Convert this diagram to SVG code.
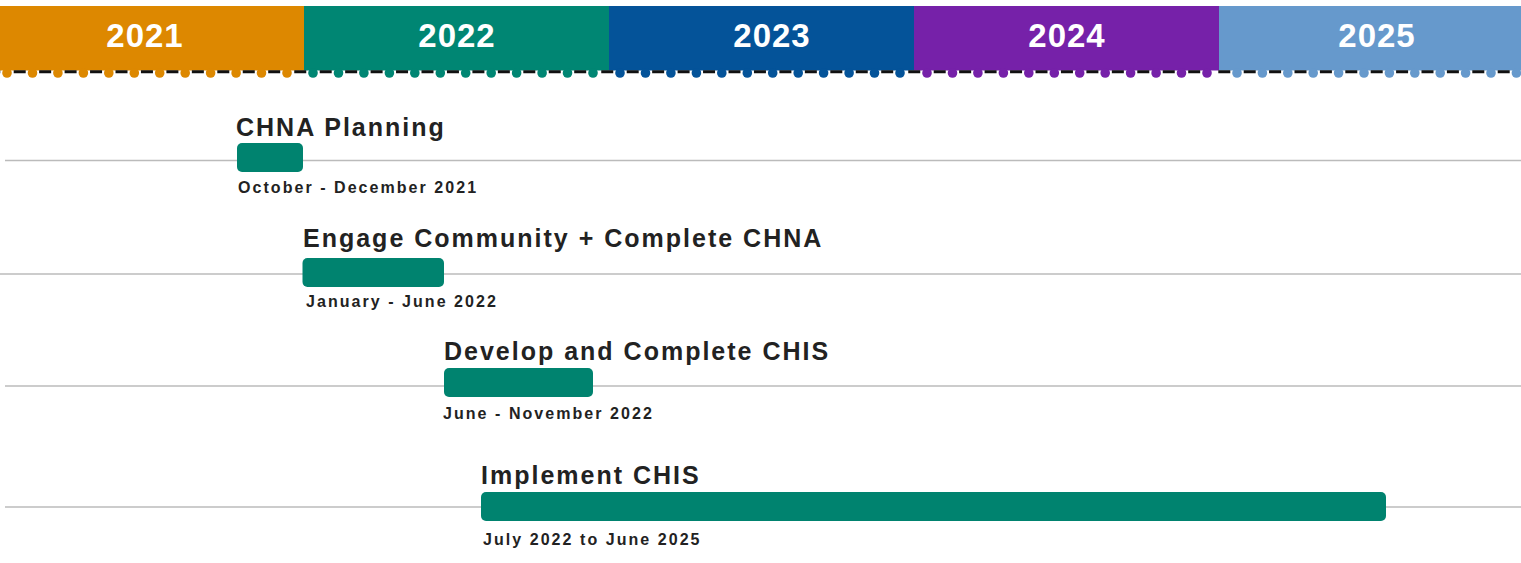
<svg xmlns="http://www.w3.org/2000/svg" width="1521" height="563" viewBox="0 0 1521 563">
<style>
.yr{font-family:"Liberation Sans",Arial,sans-serif;font-weight:bold;font-size:33px;fill:#ffffff;text-anchor:middle;letter-spacing:1px}
.title{font-family:"Liberation Sans",Arial,sans-serif;font-weight:bold;font-size:25px;fill:#222222;letter-spacing:2px}
.sub{font-family:"Liberation Sans",Arial,sans-serif;font-weight:bold;font-size:16px;fill:#222222;letter-spacing:2.05px}
.track{stroke:#bbbbbb;stroke-width:1.5;fill:none}
.bar{fill:#00836f}
.dash{stroke:#111111;stroke-width:3;stroke-dasharray:0 6.7 12 6.75}
.c21{fill:#dd8800}.c22{fill:#008673}.c23{fill:#045399}.c24{fill:#7621a9}.c25{fill:#6699cc}
</style>
<defs>
<circle id="d" r="4.8" cx="0" cy="73"/>
</defs>
<rect width="1521" height="563" fill="#ffffff"/>
<g id="header">
<rect class="c21" x="0" y="6" width="304" height="64.5"/>
<rect class="c22" x="304" y="6" width="305" height="64.5"/>
<rect class="c23" x="609" y="6" width="305" height="64.5"/>
<rect class="c24" x="914" y="6" width="305" height="64.5"/>
<rect class="c25" x="1219" y="6" width="302" height="64.5"/>
<line class="dash" x1="-18.45" y1="71.8" x2="287" y2="71.8"/>
<line class="dash" x1="287.55" y1="71.8" x2="593" y2="71.8"/>
<line class="dash" x1="594.55" y1="71.8" x2="900" y2="71.8"/>
<line class="dash" x1="901.55" y1="71.8" x2="1207" y2="71.8"/>
<line class="dash" x1="1211.6" y1="71.8" x2="1545" y2="71.8" style="stroke-dasharray:0 6.7 12 6.7"/>
<text class="yr" x="145" y="47">2021</text>
<text class="yr" x="457" y="47">2022</text>
<text class="yr" x="772" y="47">2023</text>
<text class="yr" x="1067" y="47">2024</text>
<text class="yr" x="1377" y="47">2025</text>
<g class="c21">
<use href="#d" x="7"/><use href="#d" x="32.5"/><use href="#d" x="57.9"/><use href="#d" x="83.4"/><use href="#d" x="108.8"/><use href="#d" x="134.3"/><use href="#d" x="159.7"/><use href="#d" x="185.2"/><use href="#d" x="210.6"/><use href="#d" x="236.1"/><use href="#d" x="261.5"/><use href="#d" x="287"/>
</g>
<g class="c22">
<use href="#d" x="313"/><use href="#d" x="338.5"/><use href="#d" x="363.9"/><use href="#d" x="389.4"/><use href="#d" x="414.8"/><use href="#d" x="440.3"/><use href="#d" x="465.7"/><use href="#d" x="491.2"/><use href="#d" x="516.6"/><use href="#d" x="542.1"/><use href="#d" x="567.5"/><use href="#d" x="593"/>
</g>
<g class="c23">
<use href="#d" x="620"/><use href="#d" x="645.5"/><use href="#d" x="670.9"/><use href="#d" x="696.4"/><use href="#d" x="721.8"/><use href="#d" x="747.3"/><use href="#d" x="772.7"/><use href="#d" x="798.2"/><use href="#d" x="823.6"/><use href="#d" x="849.1"/><use href="#d" x="874.5"/><use href="#d" x="900"/>
</g>
<g class="c24">
<use href="#d" x="927"/><use href="#d" x="952.5"/><use href="#d" x="977.9"/><use href="#d" x="1003.4"/><use href="#d" x="1028.8"/><use href="#d" x="1054.3"/><use href="#d" x="1079.7"/><use href="#d" x="1105.2"/><use href="#d" x="1130.6"/><use href="#d" x="1156.1"/><use href="#d" x="1181.5"/><use href="#d" x="1207"/>
</g>
<g class="c25">
<use href="#d" x="1237"/><use href="#d" x="1262.4"/><use href="#d" x="1287.8"/><use href="#d" x="1313.2"/><use href="#d" x="1338.6"/><use href="#d" x="1364"/><use href="#d" x="1389.4"/><use href="#d" x="1414.8"/><use href="#d" x="1440.2"/><use href="#d" x="1465.6"/><use href="#d" x="1491"/><use href="#d" x="1516.4"/>
</g>
</g>
<g id="connectors">
<line class="track" x1="5" y1="160.5" x2="1521" y2="160.5"/>
<line class="track" x1="0" y1="274" x2="1521" y2="274"/>
<line class="track" x1="5" y1="386" x2="1521" y2="386"/>
<line class="track" x1="5" y1="507" x2="1521" y2="507"/>
</g>
<g id="task-chna-planning">
<text class="title" x="236" y="136">CHNA Planning</text>
<rect class="bar" x="237" y="143" width="66" height="29" rx="5"/>
<text class="sub" x="238" y="193">October - December 2021</text>
</g>
<g id="task-engage-community">
<text class="title" x="303" y="247">Engage Community + Complete CHNA</text>
<rect class="bar" x="302.5" y="258" width="141.5" height="29" rx="5"/>
<text class="sub" x="306" y="307">January - June 2022</text>
</g>
<g id="task-develop-chis">
<text class="title" x="444" y="360">Develop and Complete CHIS</text>
<rect class="bar" x="444" y="368" width="149" height="29" rx="5"/>
<text class="sub" x="443" y="419">June - November 2022</text>
</g>
<g id="task-implement-chis">
<text class="title" x="481" y="484">Implement CHIS</text>
<rect class="bar" x="481" y="492" width="905" height="29" rx="5"/>
<text class="sub" x="483" y="545">July 2022 to June 2025</text>
</g>
</svg>
